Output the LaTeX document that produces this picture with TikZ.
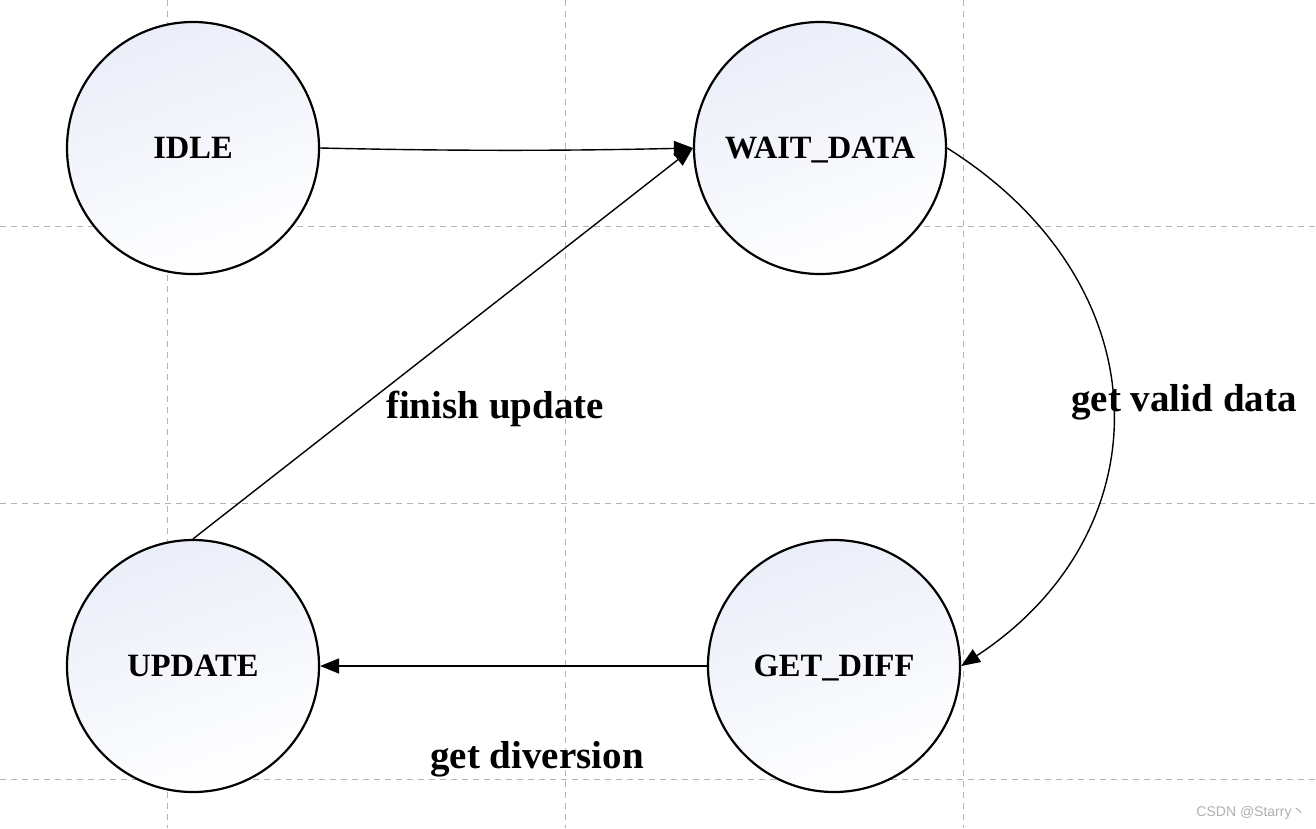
\documentclass[tikz,border=0pt]{standalone}
\usepackage{fontspec}
\setmainfont{Liberation Serif}
\setsansfont{Liberation Sans}
\newfontfamily\cjk{Noto Sans CJK SC}
\usetikzlibrary{arrows.meta}
\definecolor{gridgray}{HTML}{B4B4B4}
\definecolor{shadeblue}{HTML}{EAEEF8}
\definecolor{wmgray}{HTML}{B0B0B0}
\tikzset{
  gridline/.style={gridgray, line width=1pt, dash pattern=on 6pt off 5pt},
  statenode/.style={circle, draw=black, line width=2.2pt, minimum size=252pt, inner sep=0pt,
    top color=shadeblue, bottom color=white, shading angle=20, text depth=0pt,
    font=\bfseries\fontsize{32.5}{36}\selectfont},
  conn/.style={line width=1.4pt, -{Triangle[length=19pt,width=15pt]}},
  lbl/.style={font=\bfseries\fontsize{39}{44}\selectfont, anchor=base, inner sep=0pt}
}
\begin{document}
\begin{tikzpicture}[x=1pt,y=-1pt]
\useasboundingbox (0,0) rectangle (1316,828);
\fill[white] (0,0) rectangle (1316,828);
% grid
\draw[gridline] (0,226) -- (1316,226);
\draw[gridline] (0,503) -- (1316,503);
\draw[gridline] (0,779) -- (1316,779);
\draw[gridline] (167,0) -- (167,828);
\draw[gridline] (565,0) -- (565,828);
\draw[gridline] (963,0) -- (963,828);
% states
\node[statenode] (idle) at (193,148) {IDLE};
\node[statenode] (wait) at (820,148) {WAIT\_DATA};
\node[statenode] (upd) at (193,666) {UPDATE};
\node[statenode] (diff) at (834,666) {GET\_DIFF};
% connectors
\draw[conn] (idle.east) .. controls (450,151) and (560,151) .. (wait.west);
\draw[conn] (upd.north) -- (wait.west);
\draw[conn] (wait.east) .. controls (1165,285) and (1165,532) .. (diff.east);
\draw[conn] (diff.west) -- (upd.east);
% labels
\node[lbl] (lfin) at (495,418) {finish update};
\node[lbl] (lget) at (1184,411) {get valid data};
\node[lbl] (ldiv) at (537,768) {get diversion};
% watermark
\node[anchor=base, inner sep=0pt, text=wmgray, font=\sffamily\fontsize{14}{16}\selectfont] (wm) at (1251,816) {CSDN @Starry{\cjk 丶}};
\end{tikzpicture}
\end{document}
